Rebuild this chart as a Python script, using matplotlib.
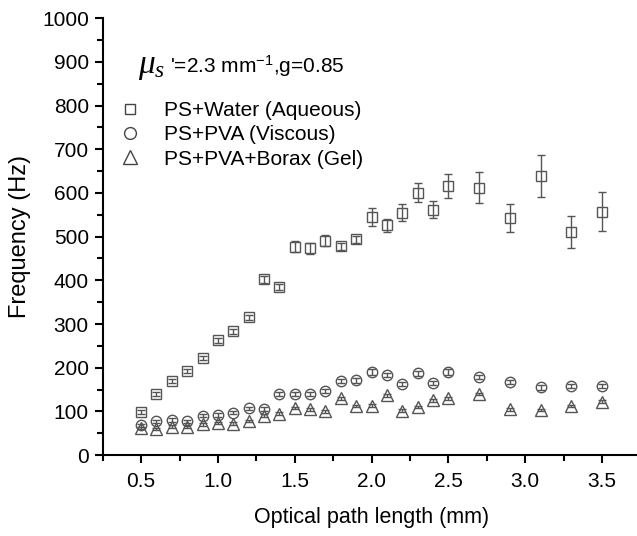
import matplotlib
matplotlib.use("Agg")
import matplotlib.pyplot as plt
from matplotlib.ticker import MultipleLocator, FormatStrFormatter
from matplotlib.lines import Line2D

plt.rcParams['font.family'] = ['Liberation Sans', 'DejaVu Sans']
plt.rcParams['mathtext.fontset'] = 'custom'
plt.rcParams['mathtext.it'] = 'Liberation Serif:italic'
plt.rcParams['mathtext.rm'] = 'Liberation Sans'

x = [0.5, 0.6, 0.7, 0.8, 0.9, 1.0, 1.1, 1.2, 1.3, 1.4, 1.5, 1.6, 1.7, 1.8, 1.9,
     2.0, 2.1, 2.2, 2.3, 2.4, 2.5, 2.7, 2.9, 3.1, 3.3, 3.5]
water = [98, 140, 170, 193, 222, 263, 283, 315, 402, 385, 477, 473, 491, 478, 494,
         545, 526, 555, 601, 562, 616, 612, 543, 638, 510, 557]
water_err = [5, 5, 5, 5, 5, 6, 6, 6, 8, 6, 12, 12, 12, 8, 8,
             20, 15, 20, 22, 20, 27, 35, 32, 48, 37, 45]
pva = [68, 77, 80, 77, 90, 92, 97, 107, 106, 140, 140, 140, 147, 170, 171,
       190, 183, 162, 187, 165, 190, 178, 167, 155, 158, 158]
pva_err = [4, 4, 4, 4, 4, 4, 4, 4, 4, 5, 5, 5, 5, 5, 5, 6, 5, 5, 5, 5, 6, 5, 5, 5, 5, 5]
gel = [62, 60, 65, 65, 70, 73, 72, 78, 90, 95, 108, 105, 100, 130, 112,
       113, 137, 102, 110, 125, 130, 140, 105, 103, 112, 122]
gel_err = [3, 3, 3, 3, 3, 3, 3, 3, 3, 3, 3, 3, 3, 3, 3, 3, 3, 3, 3, 3, 3, 3, 3, 3, 3, 3]

labels = ['PS+Water (Aqueous)', 'PS+PVA (Viscous)', 'PS+PVA+Borax (Gel)']

fig = plt.figure(figsize=(6.37, 5.36), dpi=100)
ax = fig.add_axes([0.1612, 0.151, 0.8443, 0.815])

ec = '#555555'
kw = dict(linestyle='none', mfc='none', mec=ec, mew=1.0, ecolor=ec, elinewidth=1.0,
          capsize=3.2, capthick=1.0, clip_on=False)
ax.errorbar(x, gel, yerr=gel_err, marker='^', ms=9, **kw)
ax.errorbar(x, pva, yerr=pva_err, marker='o', ms=7.5, **kw)
ax.errorbar(x, water, yerr=water_err, marker='s', ms=7.2, **kw)

ax.set_xlim(0.25, 3.75)
ax.set_ylim(0, 1000)
ax.xaxis.set_major_locator(MultipleLocator(0.5))
ax.xaxis.set_minor_locator(MultipleLocator(0.25))
ax.yaxis.set_major_locator(MultipleLocator(100))
ax.yaxis.set_minor_locator(MultipleLocator(50))
ax.spines['top'].set_visible(False)
ax.spines['right'].set_visible(False)
for s in ['left', 'bottom']:
    ax.spines[s].set_linewidth(1.5)
ax.tick_params(which='major', direction='out', length=6, width=1.5, labelsize=15)
ax.tick_params(which='minor', direction='out', length=4, width=1.5)
ax.tick_params(axis='x', which='major', pad=6)
ax.tick_params(axis='y', which='major', pad=4)
ax.xaxis.set_major_formatter(FormatStrFormatter('%.1f'))

ax.set_xlabel('Optical path length (mm)', fontsize=15.5, labelpad=12)
ax.set_ylabel('Frequency (Hz)', fontsize=17, labelpad=8)

ax.text(0.066, 0.874, r"$\mu_{s}$", transform=ax.transAxes,
        fontsize=24, va='baseline', ha='left')
ax.text(0.126, 0.874, r"'=2.3 mm$^{-1}$,g=0.85", transform=ax.transAxes,
        fontsize=15, va='baseline', ha='left')

lc = '#444444'
handles = [Line2D([], [], marker=m, linestyle='none', mfc='none', mec=lc, ms=s, mew=1.0)
           for m, s in [('s', 7.5), ('o', 8.5), ('^', 9.5)]]
ax.legend(handles, labels, loc='upper left', bbox_to_anchor=(0.028, 0.81), frameon=False,
          fontsize=15, handletextpad=1.0, labelspacing=0.25, handlelength=1.2,
          borderpad=0, borderaxespad=0)

fig.savefig('out.png', dpi=100)
